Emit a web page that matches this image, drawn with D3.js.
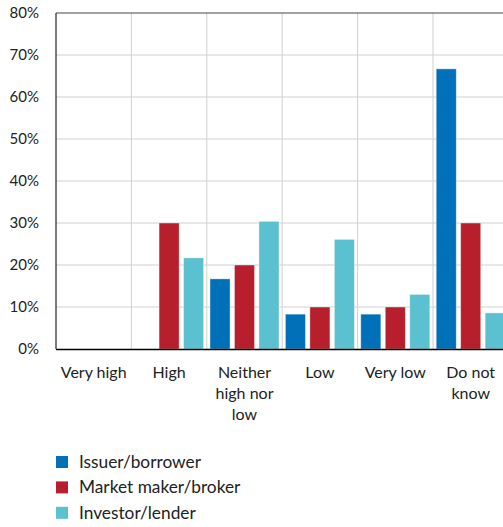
<!DOCTYPE html>
<html><head><meta charset="utf-8">
<script src="https://cdn.jsdelivr.net/npm/d3@7"></script>
<style>body{margin:0;background:#fff;}svg{display:block;font-family:Lato, "Open Sans", sans-serif;}</style>
</head><body>
<svg id="c" width="503" height="527"></svg>
<script>
const categories = [["Very high"],["High"],["Neither","high nor","low"],["Low"],["Very low"],["Do not","know"]];
const seriesNames = ["Issuer/borrower","Market maker/broker","Investor/lender"];
const colors = ["#0070b8","#b81f2c","#5bc0d0"];
const issuer = [0, 0, 16.7, 8.3, 8.3, 66.7];
const marketMaker = [0, 30, 20, 10, 10, 30];
const investor = [0, 21.7, 30.4, 26.1, 13.0, 8.6];
const yTicks = [0,10,20,30,40,50,60,70,80];

const series = [issuer, marketMaker, investor];
const svg = d3.select("#c");
const L = 56, T = 13, B = 349, bandW = 75.4;
const x0 = d3.scaleBand().domain(d3.range(categories.length)).range([L, L + bandW*categories.length]).padding(0);
const x1 = d3.scaleBand().domain(d3.range(3)).range([0, x0.bandwidth()]).paddingInner(0.18).paddingOuter(0.13);
const y = d3.scaleLinear().domain([0,80]).range([B, T]);
const right = L + bandW*categories.length;

svg.append("g").selectAll("line").data(yTicks.slice(1,-1)).join("line")
  .attr("x1", L).attr("x2", right).attr("y1", d=>y(d)).attr("y2", d=>y(d))
  .attr("stroke", "#d0d0d0").attr("stroke-width", 1);
svg.append("g").selectAll("line").data(d3.range(1, categories.length)).join("line")
  .attr("x1", d=>x0(d)).attr("x2", d=>x0(d)).attr("y1", T).attr("y2", B)
  .attr("stroke", "#d0d0d0").attr("stroke-width", 1);
svg.append("line").attr("x1", L).attr("x2", right).attr("y1", y(80)).attr("y2", y(80)).attr("stroke", "#444").attr("stroke-width", 1);

categories.forEach((c, i) => {
  series.forEach((s, j) => {
    if (s[i] <= 0) return;
    svg.append("rect")
      .attr("x", x0(i) + x1(j)).attr("width", x1.bandwidth())
      .attr("y", y(s[i])).attr("height", y(0) - y(s[i]))
      .attr("fill", colors[j]).attr("stroke", "#fff").attr("stroke-opacity", 0.5).attr("stroke-width", 0.8);
  });
});

svg.append("line").attr("x1", L).attr("x2", L).attr("y1", T).attr("y2", B).attr("stroke", "#333").attr("stroke-width", 1.3);
svg.append("line").attr("x1", L).attr("x2", right).attr("y1", B+0.5).attr("y2", B+0.5).attr("stroke", "#000").attr("stroke-width", 1.3);

const yAxis = d3.axisLeft(y).tickValues(yTicks).tickFormat(d => d + "%").tickSize(0).tickPadding(17);
const ga = svg.append("g").attr("transform", `translate(${L},0)`).call(yAxis);
ga.select(".domain").remove();
ga.selectAll("text").attr("font-size", 15).attr("fill", "#222").attr("font-family", "Lato, sans-serif");

categories.forEach((lines, i) => {
  const t = svg.append("text").attr("x", x0(i) + x0.bandwidth()/2).attr("y", 378)
    .attr("text-anchor", "middle").attr("font-size", 16).attr("fill", "#222");
  lines.forEach((ln, k) => t.append("tspan").attr("x", x0(i) + x0.bandwidth()/2).attr("dy", k ? 21 : 0).text(ln));
});

const lg = svg.append("g");
seriesNames.forEach((n, j) => {
  const cy = 462 + j*25.4;
  lg.append("rect").attr("x", 56).attr("y", cy - 6).attr("width", 12).attr("height", 12).attr("fill", colors[j]);
  lg.append("text").attr("x", 79).attr("y", cy + 6).attr("font-size", 17.3).attr("fill", "#222").text(n);
});
</script>
</body></html>
